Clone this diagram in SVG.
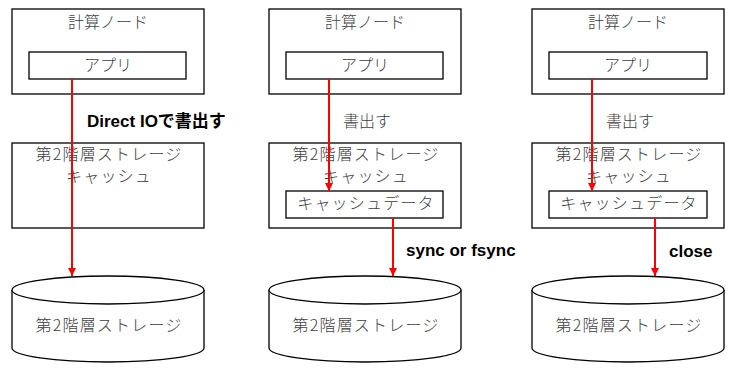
<svg xmlns="http://www.w3.org/2000/svg" width="743" height="370" viewBox="0 0 743 370">
<style>
.box{fill:#fff;stroke:#000;stroke-width:1.3}
.t{font-family:"Noto Sans CJK JP","Liberation Sans",sans-serif;font-size:16px;font-weight:300;fill:#404040;text-anchor:middle}
.w{letter-spacing:1.2px}
.b{font-family:"Liberation Sans","Noto Sans CJK JP",sans-serif;font-size:17px;font-weight:bold;fill:#000}
.a{stroke:#f00;stroke-width:2;fill:none;marker-end:url(#ah)}
</style>
<defs>
<marker id="ah" markerWidth="8" markerHeight="8" refX="6" refY="3" orient="auto" markerUnits="userSpaceOnUse" viewBox="0 0 6 6">
<path d="M0,0 L6,3 L0,6 z" fill="#f00"/>
</marker>
</defs>
<g id="node-compute1"><rect class="box" x="12" y="9" width="192" height="85"/><text class="t" x="108" y="28">計算ノード</text></g>
<g id="node-app1"><rect class="box" x="29" y="52" width="157" height="27"/><text class="t" x="108" y="71">アプリ</text></g>
<g id="node-cache1"><rect class="box" x="12" y="143" width="192" height="85"/><text class="t w" x="109" y="160">第2階層ストレージ</text><text class="t w" x="109" y="182">キャッシュ</text></g>
<g id="node-storage1"><path class="box" d="M12,290 A96,14 0 0 1 204,290 L204,348 A96,14 0 0 1 12,348 Z"/><path class="box" fill="none" d="M12,290 A96,14 0 0 0 204,290"/><text class="t w" x="109" y="331">第2階層ストレージ</text></g>

<g id="node-compute2"><rect class="box" x="269" y="9" width="192" height="85"/><text class="t" x="365" y="28">計算ノード</text></g>
<g id="node-app2"><rect class="box" x="286" y="52" width="157" height="27"/><text class="t" x="365" y="71">アプリ</text></g>
<g id="node-cache2"><rect class="box" x="269" y="143" width="192" height="85"/><text class="t w" x="366" y="160">第2階層ストレージ</text><text class="t w" x="366" y="182">キャッシュ</text></g>
<g id="node-cachedata2"><rect class="box" x="286" y="191" width="157" height="27"/><text class="t w" x="366" y="209">キャッシュデータ</text></g>
<g id="node-storage2"><path class="box" d="M269,290 A96,14 0 0 1 461,290 L461,348 A96,14 0 0 1 269,348 Z"/><path class="box" fill="none" d="M269,290 A96,14 0 0 0 461,290"/><text class="t w" x="366" y="331">第2階層ストレージ</text></g>

<g id="node-compute3"><rect class="box" x="532" y="9" width="192" height="85"/><text class="t" x="628" y="28">計算ノード</text></g>
<g id="node-app3"><rect class="box" x="549" y="52" width="158" height="27"/><text class="t" x="628" y="71">アプリ</text></g>
<g id="node-cache3"><rect class="box" x="532" y="143" width="192" height="85"/><text class="t w" x="629" y="160">第2階層ストレージ</text><text class="t w" x="629" y="182">キャッシュ</text></g>
<g id="node-cachedata3"><rect class="box" x="549" y="191" width="158" height="27"/><text class="t w" x="629" y="209">キャッシュデータ</text></g>
<g id="node-storage3"><path class="box" d="M532,290 A96,14 0 0 1 724,290 L724,348 A96,14 0 0 1 532,348 Z"/><path class="box" fill="none" d="M532,290 A96,14 0 0 0 724,290"/><text class="t w" x="629" y="331">第2階層ストレージ</text></g>

<g id="connectors">
<line class="a" x1="72" y1="79" x2="72" y2="276"/>
<line class="a" x1="329" y1="79" x2="329" y2="191"/>
<line class="a" x1="393" y1="218" x2="393" y2="276"/>
<line class="a" x1="592" y1="79" x2="592" y2="191"/>
<line class="a" x1="655" y1="218" x2="655" y2="276"/>
<text class="b" x="87" y="127">Direct IOで書出す</text>
<text class="t" x="367" y="127">書出す</text>
<text class="t" x="630" y="127">書出す</text>
<text class="b" x="406" y="256">sync or fsync</text>
<text class="b" x="669" y="257">close</text>
</g>
</svg>
